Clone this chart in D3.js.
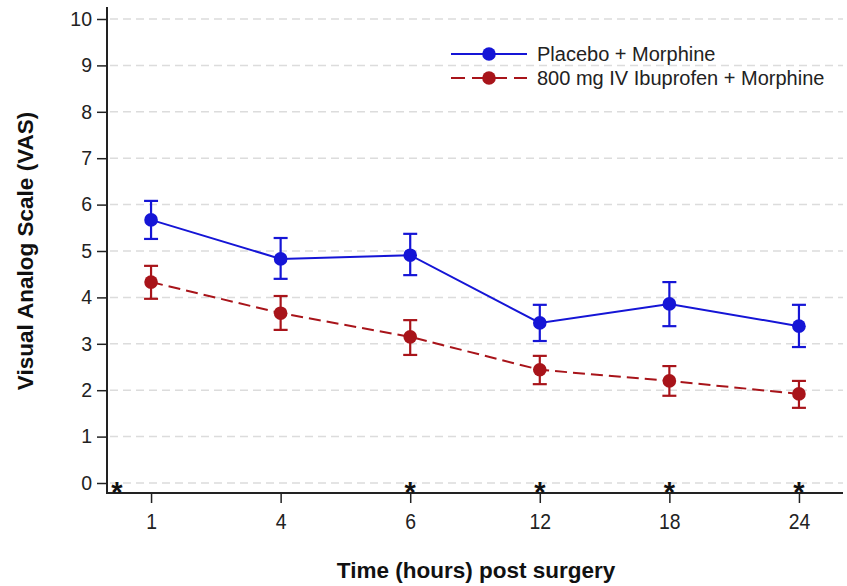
<!DOCTYPE html>
<html>
<head>
<meta charset="utf-8">
<script src="https://cdn.jsdelivr.net/npm/d3@7"></script>
<style>
  body { margin: 0; background: #fff; }
  svg { display: block; }
</style>
</head>
<body>
<div id="chart"></div>
<script>
const timepoints = ['1', '4', '6', '12', '18', '24'];
const placeboMean = [5.67, 4.83, 4.91, 3.45, 3.86, 3.38];
const placeboLow  = [5.26, 4.40, 4.48, 3.06, 3.38, 2.93];
const placeboHigh = [6.08, 5.28, 5.37, 3.84, 4.33, 3.84];
const ibuMean = [4.33, 3.66, 3.15, 2.44, 2.20, 1.92];
const ibuLow  = [3.97, 3.30, 2.76, 2.13, 1.88, 1.62];
const ibuHigh = [4.68, 4.03, 3.51, 2.74, 2.52, 2.20];
// timepoints flagged with an asterisk; '0' sits just right of the y axis
const starred = ['0', '6', '12', '18', '24'];
const yTicks = [0, 1, 2, 3, 4, 5, 6, 7, 8, 9, 10];

const width = 847, height = 586;
const plotLeft = 107, plotRight = 843, plotTop = 7, plotBottom = 493;

const svg = d3.select('#chart').append('svg')
    .attr('width', width)
    .attr('height', height);

const x = d3.scalePoint()
    .domain(timepoints)
    .range([plotLeft, plotRight])
    .padding(0.34);

const y = d3.scaleLinear()
    .domain([0, 10])
    .range([483, 19]);

// grid
svg.append('g')
    .selectAll('line')
    .data(yTicks)
    .join('line')
    .attr('x1', plotLeft + 3)
    .attr('x2', plotRight)
    .attr('y1', d => y(d))
    .attr('y2', d => y(d))
    .attr('stroke', '#dcdcdc')
    .attr('stroke-width', 1.5)
    .attr('stroke-dasharray', '8,5');

// y axis
const yAxis = svg.append('g')
    .attr('transform', `translate(${plotLeft},0)`)
    .call(d3.axisLeft(y).tickValues(yTicks).tickSize(10).tickPadding(5));
yAxis.select('.domain').remove();
yAxis.append('line')
    .attr('x1', 0).attr('x2', 0)
    .attr('y1', plotTop).attr('y2', plotBottom)
    .attr('stroke', '#222')
    .attr('stroke-width', 2);
yAxis.selectAll('.tick line').attr('stroke', '#222').attr('stroke-width', 1.5);
yAxis.selectAll('.tick text')
    .attr('fill', '#222')
    .style('font-family', 'Liberation Sans, Arial, sans-serif')
    .style('font-size', '19.5px');

// x axis
const xAxis = svg.append('g')
    .attr('transform', `translate(0,${plotBottom})`)
    .call(d3.axisBottom(x).tickSize(10).tickPadding(10));
xAxis.select('.domain').remove();
xAxis.append('line')
    .attr('x1', plotLeft - 1).attr('x2', plotRight)
    .attr('y1', 0).attr('y2', 0)
    .attr('stroke', '#222')
    .attr('stroke-width', 2);
xAxis.selectAll('.tick line').attr('stroke', '#222').attr('stroke-width', 1.5);
xAxis.selectAll('.tick text')
    .attr('fill', '#222')
    .attr('transform', 'scale(0.88,1)')
    .style('font-family', 'Liberation Sans, Arial, sans-serif')
    .style('font-size', '22px');

// axis titles
svg.append('text')
    .attr('transform', `translate(33,251) rotate(-90)`)
    .attr('text-anchor', 'middle')
    .style('font-family', 'Liberation Sans, Arial, sans-serif')
    .style('font-weight', 'bold')
    .style('font-size', '22.5px')
    .attr('fill', '#111')
    .text('Visual Analog Scale (VAS)');

svg.append('text')
    .attr('x', 476)
    .attr('y', 578)
    .attr('text-anchor', 'middle')
    .style('font-family', 'Liberation Sans, Arial, sans-serif')
    .style('font-weight', 'bold')
    .style('font-size', '22.5px')
    .attr('fill', '#111')
    .text('Time (hours) post surgery');

const series = [
    { name: 'Placebo + Morphine', mean: placeboMean, low: placeboLow, high: placeboHigh, color: '#1515d6', dash: null },
    { name: '800 mg IV Ibuprofen + Morphine', mean: ibuMean, low: ibuLow, high: ibuHigh, color: '#a8141a', dash: '12,6' }
];

const line = d3.line()
    .x(d => x(d.t))
    .y(d => y(d.v));

series.forEach(s => {
    const pts = timepoints.map((t, i) => ({ t, v: s.mean[i], lo: s.low[i], hi: s.high[i] }));
    const g = svg.append('g');

    g.append('path')
        .datum(pts)
        .attr('d', line)
        .attr('fill', 'none')
        .attr('stroke', s.color)
        .attr('stroke-width', 2)
        .attr('stroke-dasharray', s.dash);

    const eb = g.selectAll('.eb')
        .data(pts)
        .join('g')
        .attr('class', 'eb')
        .attr('stroke', s.color)
        .attr('stroke-width', 2.2);
    eb.append('line')
        .attr('x1', d => x(d.t)).attr('x2', d => x(d.t))
        .attr('y1', d => y(d.lo)).attr('y2', d => y(d.hi));
    eb.append('line')
        .attr('x1', d => x(d.t) - 7).attr('x2', d => x(d.t) + 7)
        .attr('y1', d => y(d.lo)).attr('y2', d => y(d.lo));
    eb.append('line')
        .attr('x1', d => x(d.t) - 7).attr('x2', d => x(d.t) + 7)
        .attr('y1', d => y(d.hi)).attr('y2', d => y(d.hi));

    g.selectAll('circle')
        .data(pts)
        .join('circle')
        .attr('cx', d => x(d.t))
        .attr('cy', d => y(d.v))
        .attr('r', 6.8)
        .attr('fill', s.color);
});

// asterisks
svg.append('g')
    .selectAll('text')
    .data(starred)
    .join('text')
    .attr('x', d => d === '0' ? plotLeft + 10 : x(d))
    .attr('y', 502)
    .attr('text-anchor', 'middle')
    .style('font-family', 'Liberation Sans, Arial, sans-serif')
    .style('font-weight', 'bold')
    .style('font-size', '29px')
    .attr('fill', '#111')
    .text('*');

// legend
const legend = svg.append('g');
series.forEach((s, i) => {
    const ly = 54 + i * 24;
    legend.append('line')
        .attr('x1', 451).attr('x2', 527)
        .attr('y1', ly).attr('y2', ly)
        .attr('stroke', s.color)
        .attr('stroke-width', 2)
        .attr('stroke-dasharray', s.dash ? '14,7' : null);
    legend.append('circle')
        .attr('cx', 489).attr('cy', ly)
        .attr('r', 6.8)
        .attr('fill', s.color);
    legend.append('text')
        .attr('x', 537)
        .attr('y', ly + 7)
        .style('font-family', 'Liberation Sans, Arial, sans-serif')
        .style('font-size', '20px')
        .attr('fill', '#222')
        .text(s.name);
});
</script>
</body>
</html>
